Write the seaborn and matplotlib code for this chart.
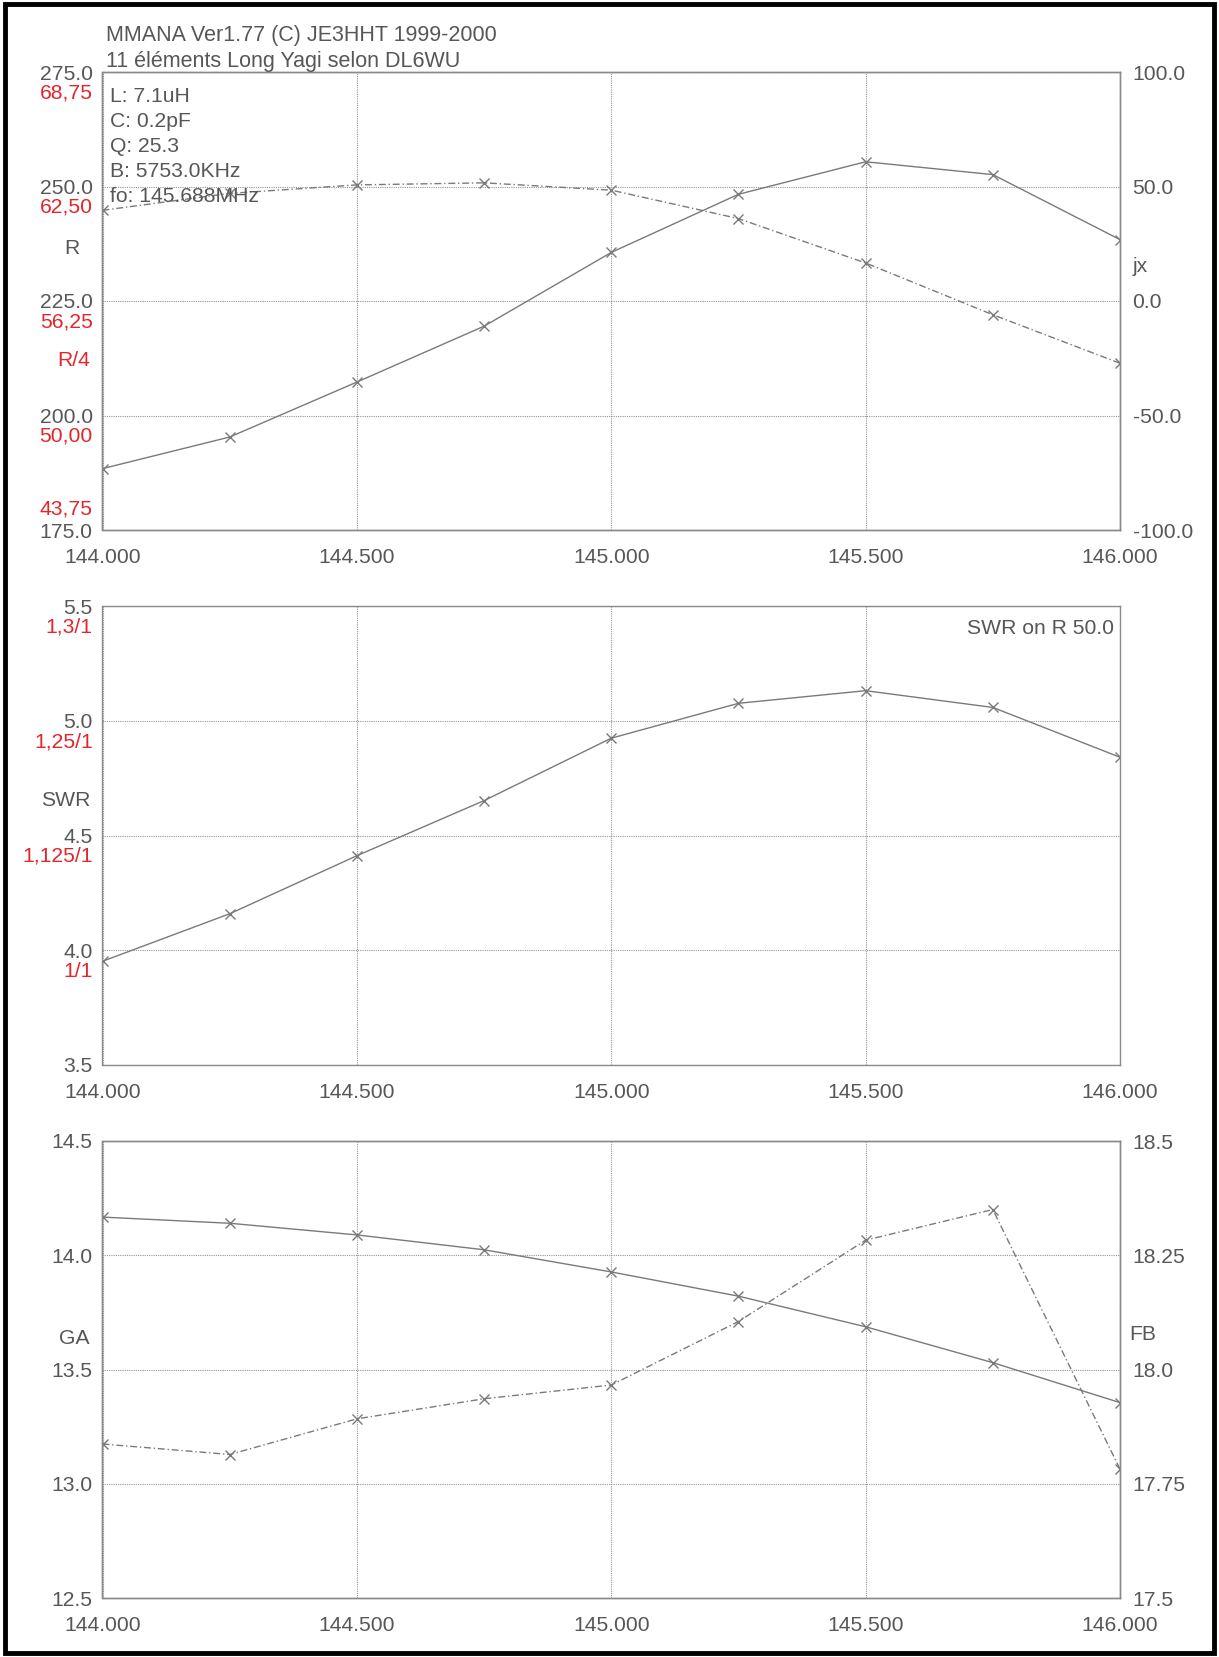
import matplotlib
matplotlib.use("Agg")
import matplotlib.pyplot as plt
from matplotlib.patches import Rectangle
import seaborn as sns

# data
freq = [144.0, 144.25, 144.5, 144.75, 145.0, 145.25, 145.5, 145.75, 146.0]
r_vals = [188.4, 195.3, 207.3, 219.5, 235.6, 248.3, 255.4, 252.6, 238.4]
jx_vals = [39.6, 47.0, 50.7, 51.6, 48.4, 36.0, 16.6, -6.0, -27.2]
swr_vals = [3.952, 4.159, 4.412, 4.652, 4.924, 5.076, 5.131, 5.058, 4.841]
ga_vals = [14.167, 14.14, 14.089, 14.024, 13.927, 13.821, 13.687, 13.530, 13.355]
fb_vals = [17.837, 17.814, 17.892, 17.936, 17.966, 18.105, 18.283, 18.350, 17.782]

x_ticks = [144.0, 144.5, 145.0, 145.5, 146.0]
x_labels = ["144.000", "144.500", "145.000", "145.500", "146.000"]
r_ticks = [175.0, 200.0, 225.0, 250.0, 275.0]
r_red = ["43,75", "50,00", "56,25", "62,50", "68,75"]
jx_ticks = [-100.0, -50.0, 0.0, 50.0, 100.0]
swr_ticks = [3.5, 4.0, 4.5, 5.0, 5.5]
swr_red = ["", "1/1", "1,125/1", "1,25/1", "1,3/1"]
ga_ticks = [12.5, 13.0, 13.5, 14.0, 14.5]
fb_ticks = [17.5, 17.75, 18.0, 18.25, 18.5]
fb_labels = ["17.5", "17.75", "18.0", "18.25", "18.5"]

info_lines = ["L: 7.1uH", "C: 0.2pF", "Q: 25.3", "B: 5753.0KHz", "fo: 145.688MHz"]

W, H = 1219, 1657
GREY = "#575757"
LINE = "#7a7a7a"
RED = "#e3262b"
FS = 15.2

sns.set_style("white")
plt.rcParams["font.family"] = ["Liberation Sans", "DejaVu Sans"]

fig = plt.figure(figsize=(W / 100, H / 100), dpi=100)


def px(x, y):
    return x / W, 1 - y / H


def make_axes(top, bottom):
    left, right = 102.5, 1120
    ax = fig.add_axes([left / W, 1 - bottom / H, (right - left) / W, (bottom - top) / H])
    return ax


def style(ax, ticks, labels, side="left"):
    ax.set_yticks(ticks)
    ax.set_yticklabels(labels)
    ax.set_xticks(x_ticks)
    ax.set_xticklabels(x_labels)
    ax.set_xlim(144.0, 146.0)
    ax.set_ylim(ticks[0], ticks[-1])
    ax.tick_params(axis="both", length=0, labelsize=FS, labelcolor=GREY)
    ax.tick_params(axis="x", pad=13)
    ax.tick_params(axis="y", pad=7 if side == "left" else 9)
    for s in ax.spines.values():
        s.set_color("#8a8a8a")
        s.set_linewidth(1.0)
    ax.set_xlabel("")
    ax.set_ylabel("")


def draw(ax, y, dashed=False):
    kw = dict(linestyle=(0, (5, 2, 1, 2))) if dashed else {}
    sns.lineplot(x=freq, y=y, ax=ax, color=LINE, linewidth=1.0, marker="x",
                 markersize=7, markeredgewidth=1.0, markeredgecolor=LINE, **kw)


def grid(ax):
    ax.grid(True, linestyle=(0, (1, 1)), color="#959595", linewidth=0.8)


def red_labels(ax, ticks, texts, below=True):
    for t, s in zip(ticks, texts):
        if not s:
            continue
        off = -15 if below else 15
        ax.annotate(s, xy=(0, t), xycoords=ax.get_yaxis_transform(),
                    xytext=(-7, off), textcoords="offset points",
                    ha="right", va="center", color=RED, fontsize=FS)


# panel 1 : R / jx
ax1 = make_axes(72, 530)
draw(ax1, r_vals)
style(ax1, r_ticks, [f"{t:.1f}" for t in r_ticks])
grid(ax1)
ax1.set_axisbelow(True)
ax1b = ax1.twinx()
draw(ax1b, jx_vals, dashed=True)
style(ax1b, jx_ticks, [f"{t:.1f}" for t in jx_ticks], side="right")
ax1b.grid(False)
red_labels(ax1, r_ticks[1:], r_red[1:], below=True)
red_labels(ax1, r_ticks[:1], r_red[:1], below=False)

# panel 2 : SWR
ax2 = make_axes(606, 1065)
draw(ax2, swr_vals)
style(ax2, swr_ticks, [f"{t:.1f}" for t in swr_ticks])
grid(ax2)
red_labels(ax2, swr_ticks, swr_red, below=True)

# panel 3 : GA / FB
ax3 = make_axes(1141, 1598)
draw(ax3, ga_vals)
style(ax3, ga_ticks, [f"{t:.1f}" for t in ga_ticks])
grid(ax3)
ax3b = ax3.twinx()
draw(ax3b, fb_vals, dashed=True)
style(ax3b, fb_ticks, fb_labels, side="right")
ax3b.grid(False)

# header and annotations
fig.text(*px(105.5, 36), "MMANA Ver1.77 (C) JE3HHT 1999-2000", ha="left", va="center",
         color=GREY, fontsize=FS + 0.3)
fig.text(*px(105.5, 61), "11 éléments Long Yagi selon DL6WU", ha="left", va="center",
         color=GREY, fontsize=FS + 0.3)
for i, line in enumerate(info_lines):
    fig.text(*px(110, 97 + i * 24.8), line, ha="left", va="center", color=GREY, fontsize=FS)

fig.text(*px(72, 248), "R", ha="center", va="center", color=GREY, fontsize=FS)
fig.text(*px(74, 361), "R/4", ha="center", va="center", color=RED, fontsize=FS)
fig.text(*px(1140, 267), "jx", ha="center", va="center", color=GREY, fontsize=FS)
fig.text(*px(66, 801), "SWR", ha="center", va="center", color=GREY, fontsize=FS)
fig.text(*px(1114, 629), "SWR on R 50.0", ha="right", va="center", color=GREY, fontsize=FS)
fig.text(*px(74, 1338), "GA", ha="center", va="center", color=GREY, fontsize=FS)
fig.text(*px(1143, 1335), "FB", ha="center", va="center", color=GREY, fontsize=FS)

# scanned page frame
fig.patches.append(Rectangle((5 / W, 4 / H), (W - 10) / W, (H - 8) / H,
                             transform=fig.transFigure, fill=False,
                             edgecolor="black", linewidth=3.5))

fig.savefig("out.png", dpi=100, facecolor="white")
